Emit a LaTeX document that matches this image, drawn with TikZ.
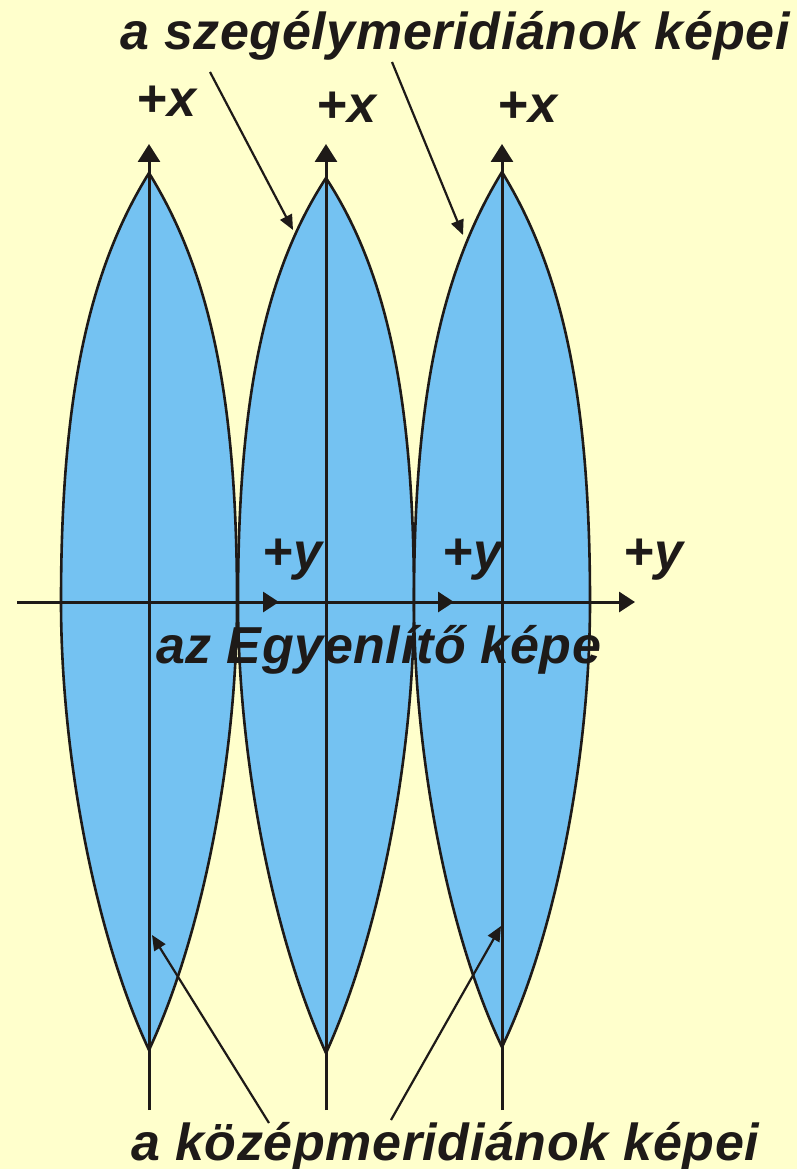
\documentclass[tikz,border=0pt]{standalone}
\usepackage{fontspec}
\setmainfont{Liberation Sans}[LetterSpace=1.2]
\usetikzlibrary{arrows.meta}
\definecolor{bg}{HTML}{FFFFCC}
\definecolor{gorefill}{HTML}{74C2F2}
\definecolor{ink}{HTML}{1E1A18}
\newcommand{\lensat}[3]{%
  \path[goreline] (#1,#2) .. controls (#1+62,273) and (#1+88,402) .. (#1+88,602)
    .. controls (#1+88,752) and (#1+55,932) .. (#1,#3)
    .. controls (#1-55,932) and (#1-88,752) .. (#1-88,602)
    .. controls (#1-88,402) and (#1-62,273) .. (#1,#2) -- cycle;}
\begin{document}
\begin{tikzpicture}[x=1pt,y=-1pt,
  goreline/.style={draw=ink, line width=2.6pt, fill=gorefill, line join=miter},
  xaxis/.style={draw=ink, line width=3pt, -{Triangle[length=18pt,width=22pt]}},
  yaxis/.style={draw=ink, line width=3pt, -{Triangle[length=16pt,width=20pt]}},
  leader/.style={draw=ink, line width=2.2pt, -{Triangle[length=15pt,width=13pt]}},
  lbl/.style={text=ink, font=\fontsize{52}{60}\selectfont\bfseries\itshape, inner sep=0pt, anchor=base west},
]
\fill[bg] (0,0) rectangle (797,1169);
\useasboundingbox (0,0) rectangle (797,1169);
% gores
\lensat{149}{173}{1050}
\lensat{326}{178}{1053}
\lensat{502}{172}{1047}
% coordinates
\coordinate (o) at (17,602);
\coordinate (ye1) at (279,602);
\coordinate (ye2) at (454,602);
\coordinate (ye3) at (635,602);
\coordinate (xb1) at (149,1110);
\coordinate (xt1) at (149,144);
\coordinate (xb2) at (326,1110);
\coordinate (xt2) at (326,144);
\coordinate (xb3) at (502,1110);
\coordinate (xt3) at (502,144);
\coordinate (ls1) at (210,72);
\coordinate (le1) at (293,230);
\coordinate (ls2) at (392,62);
\coordinate (le2) at (463,235);
\coordinate (ms1) at (269,1123);
\coordinate (me1) at (152,935);
\coordinate (ms2) at (391,1120);
\coordinate (me2) at (501,926);
% axes
\draw[yaxis] (o) -- (ye3);
\draw[yaxis] (o) -- (ye2);
\draw[yaxis] (o) -- (ye1);
\draw[xaxis] (xb1) -- (xt1);
\draw[xaxis] (xb2) -- (xt2);
\draw[xaxis] (xb3) -- (xt3);
% leaders
\draw[leader] (ls1) -- (le1);
\draw[leader] (ls2) -- (le2);
\draw[leader] (ms1) -- (me1);
\draw[leader] (ms2) -- (me2);
% labels
\node[lbl] (top) at (120,50) {a szegélymeridiánok képei};
\node[lbl] (bot) at (131,1160) {a középmeridiánok képei};
\node[lbl] (eq) at (156,663) {az Egyenlítő képe};
\node[lbl] (x1) at (136,117) {+x};
\node[lbl] (x2) at (316,123) {+x};
\node[lbl] (x3) at (497,123) {+x};
\node[lbl] (y1) at (262,569) {+y};
\node[lbl] (y2) at (442,569) {+y};
\node[lbl] (y3) at (623,569) {+y};
\end{tikzpicture}
\end{document}
